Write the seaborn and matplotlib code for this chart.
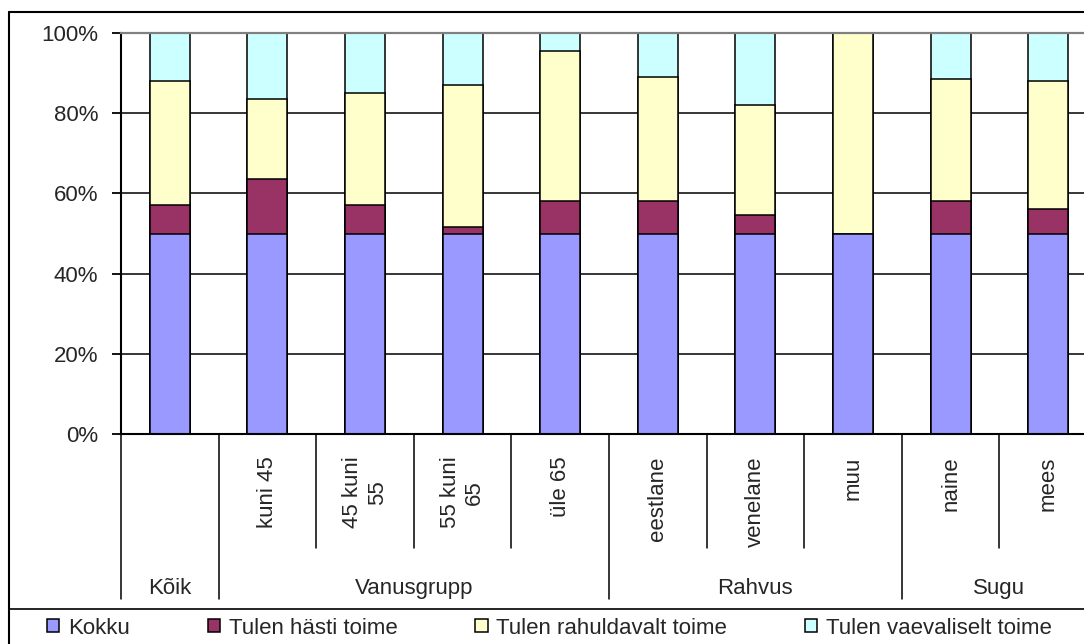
import numpy as np
import pandas as pd
import matplotlib
matplotlib.use("Agg")
import matplotlib.pyplot as plt
import matplotlib.ticker as mticker
import matplotlib.transforms as mtransforms
from matplotlib.patches import Patch
from matplotlib.lines import Line2D
import seaborn as sns

# kaks kategooria taset
groups = ["Kõik", "Vanusgrupp", "Vanusgrupp", "Vanusgrupp", "Vanusgrupp",
          "Rahvus", "Rahvus", "Rahvus", "Sugu", "Sugu"]
subgroups = ["", "kuni 45", "45 kuni\n55", "55 kuni\n65", "üle 65",
             "eestlane", "venelane", "muu", "naine", "mees"]

# vastuste jaotus % (Kokku on tabelis kaasas, seega 100% tulbal pool)
kokku       = [100, 100, 100, 100, 100, 100, 100, 100, 100, 100]
hasti       = [14, 27, 14, 3, 16, 16, 9, 0, 16, 12]
rahuldavalt = [62, 40, 56, 71, 75, 62, 55, 100, 61, 64]
vaevaliselt = [24, 33, 30, 26, 9, 22, 36, 0, 23, 24]

series = ["Kokku", "Tulen hästi toime", "Tulen rahuldavalt toime",
          "Tulen vaevaliselt toime"]
colors = ["#9999FF", "#993366", "#FFFFCC", "#CCFFFF"]

W, H = 1084, 644
FS = 16

sns.set_style("white")
plt.rcParams["font.family"] = ["Liberation Sans", "DejaVu Sans"]

df = pd.DataFrame({
    "key": [f"{g}|{s}" for g, s in zip(groups, subgroups)],
    series[0]: kokku, series[1]: hasti,
    series[2]: rahuldavalt, series[3]: vaevaliselt,
})
tot = df[series].sum(axis=1)
cum = df[series].cumsum(axis=1).div(tot, axis=0) * 100
cum["key"] = df["key"]
keys = df["key"].tolist()

fig = plt.figure(figsize=(W / 100, H / 100), dpi=100, facecolor="white")
ax = fig.add_axes([121 / W, 1 - 434.3 / H, 976 / W, 401.6 / H])

# 100% kuhjad: joonista ülevalt alla, iga kiht katab eelmise
for s, c in zip(series[::-1], colors[::-1]):
    sns.barplot(data=cum, x="key", y=s, order=keys, color=c, saturation=1,
                width=0.41, edgecolor="black", linewidth=1.1,
                errorbar=None, ax=ax)

ax.set_ylim(0, 100)
ax.set_xlim(-0.5, len(keys) - 0.5)
ax.set_yticks(range(0, 101, 20))
ax.yaxis.set_major_formatter(mticker.FuncFormatter(lambda v, _: f"{v:.0f}%"))
ax.grid(axis="y", color="black", linewidth=1.1)
ax.get_ygridlines()[-1].set_visible(False)
ax.set_axisbelow(True)
ax.set_xlabel("")
ax.set_ylabel("")
ax.tick_params(axis="y", direction="out", length=6.3, width=1.3,
               color="black", pad=10, labelsize=FS, left=True)
ax.set_xticks(range(len(keys)))
ax.set_xticklabels(subgroups, rotation=90, fontsize=FS, va="top", ha="center")
ax.tick_params(axis="x", length=0, pad=16)
ax.spines["right"].set_visible(False)
ax.spines["top"].set_color("#808080")
ax.spines["top"].set_linewidth(1.6)
ax.spines["left"].set_linewidth(1.5)
ax.spines["bottom"].set_linewidth(1.5)
ax.spines["left"].set_color("black")
ax.spines["bottom"].set_color("black")

# mitmetasandiline kategooriatelg
tr = mtransforms.blended_transform_factory(ax.transData, ax.transAxes)
bounds = np.arange(len(keys) + 1) - 0.5
for i, b in enumerate(bounds):
    left = groups[i - 1] if i > 0 else None
    right = groups[i] if i < len(groups) else None
    y_end = -0.41 if left != right else -0.283
    ax.plot([b, b], [0, y_end], color="black", lw=1.1, transform=tr,
            clip_on=False)

grp_names = list(dict.fromkeys(groups))
for g in grp_names:
    idx = [i for i, x in enumerate(groups) if x == g]
    ax.text(np.mean(idx), -0.3977, g, transform=tr, ha="center",
            va="baseline", fontsize=FS)

# välisraam ja legendi eraldusjoon
fig.add_artist(Line2D([8.7 / W, 8.7 / W], [0, 1 - 12.3 / H],
                      transform=fig.transFigure, color="black", lw=1.5))
fig.add_artist(Line2D([8.7 / W, 1], [1 - 12.3 / H, 1 - 12.3 / H],
                      transform=fig.transFigure, color="black", lw=1.5))
fig.add_artist(Line2D([8.7 / W, 1], [1 - 608.7 / H, 1 - 608.7 / H],
                      transform=fig.transFigure, color="black", lw=1.2))

handles = [Patch(facecolor=c, edgecolor="black", linewidth=1.1) for c in colors]
fig.legend(handles, series, ncol=4, loc="center left",
           bbox_to_anchor=(47 / W, 1 - 628 / H), frameon=False, fontsize=FS,
           handlelength=0.55, handleheight=0.55, handletextpad=0.4,
           columnspacing=3.5, borderpad=0, borderaxespad=0)

fig.savefig("out.png", dpi=100, facecolor="white")
